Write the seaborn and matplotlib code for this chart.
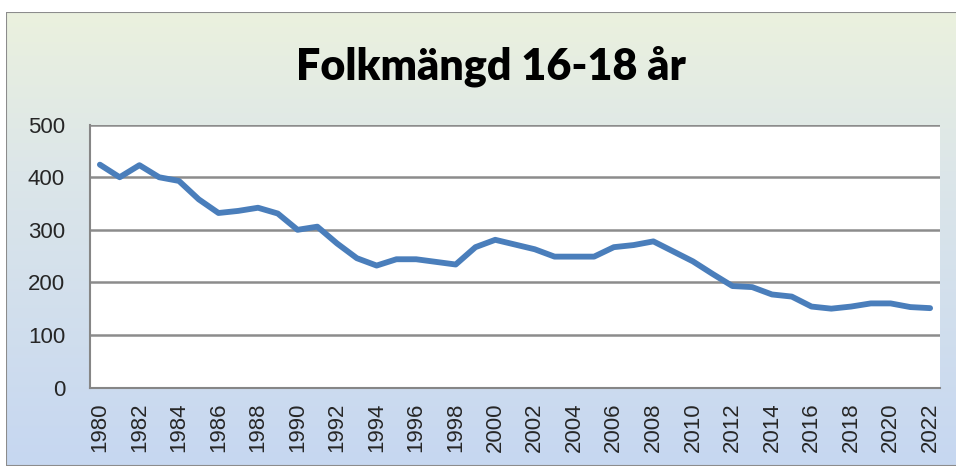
import matplotlib.pyplot as plt
import numpy as np
import pandas as pd
import seaborn as sns
from matplotlib.patches import Rectangle

years = list(range(1980, 2023))
population = [424, 400, 423, 400, 393, 358, 332, 336, 342, 331,
              300, 306, 274, 246, 232, 244, 244, 239, 234, 267,
              281, 272, 263, 249, 249, 249, 267, 271, 278, 259,
              240, 216, 193, 191, 177, 173, 154, 150, 154, 160,
              160, 153, 151]
title = "Folkmängd 16-18 år"

df = pd.DataFrame({"year": years, "population": population})

sns.set_style("white")
plt.rcParams["font.family"] = ["Liberation Sans", "DejaVu Sans"]

W, H = 956, 466
fig = plt.figure(figsize=(W / 100, H / 100), dpi=100)

# gradient background of the chart area
bg = fig.add_axes([6 / W, 0, 1 - 6 / W, (H - 12) / H], zorder=0)
top = np.array([235, 241, 222]) / 255
mid = np.array([220, 230, 233]) / 255
bot = np.array([198, 215, 241]) / 255
t = np.linspace(0, 1, 256)[:, None]
grad = np.where(t < 0.35, top + (mid - top) * (t / 0.35), mid + (bot - mid) * ((t - 0.35) / 0.65))
bg.imshow(grad[:, None, :].repeat(2, axis=1), aspect="auto", extent=[0, 1, 0, 1])
bg.set_xlim(0, 1)
bg.set_ylim(0, 1)
bg.axis("off")
bg.add_patch(Rectangle((0, 0), 1.2, 0.999, fill=False, edgecolor="#8c8c8c", lw=1.5))

ax = fig.add_axes([90 / W, (H - 387.5) / H, 850 / W, 262.8 / H], zorder=1)
ax.set_facecolor("white")
sns.lineplot(data=df, x="year", y="population", color="#4a7ebb", linewidth=4.2, ax=ax)

ax.set_xlim(1979.5, 2022.5)
ax.set_ylim(0, 500)
ax.set_yticks(range(0, 501, 100))
ax.set_xticks(years[::2])
ax.set_xticklabels([str(y) for y in years[::2]], rotation=90, fontsize=16)
ax.set_xticks(np.arange(1979.5, 2023, 1), minor=True)
ax.tick_params(axis="x", which="major", length=0, pad=11)
ax.tick_params(axis="x", which="minor", length=5.5, width=1.5, color="#868686")
ax.tick_params(axis="y", length=6, width=1.5, color="#868686", labelsize=16, pad=12)
ax.grid(axis="y", color="#8c8c8c", linewidth=1.8)
ax.set_axisbelow(True)
for side in ["top", "right"]:
    ax.spines[side].set_visible(False)
for side in ["left", "bottom"]:
    ax.spines[side].set_color("#868686")
    ax.spines[side].set_linewidth(1.5)
ax.set_xlabel("")
ax.set_ylabel("")

fig.text(491 / W, 1 - 66 / H, title, ha="center", va="center", color="black",
         fontsize=31, fontweight="heavy", family=["Lato", "DejaVu Sans"])

fig.savefig("out.png", dpi=100)
